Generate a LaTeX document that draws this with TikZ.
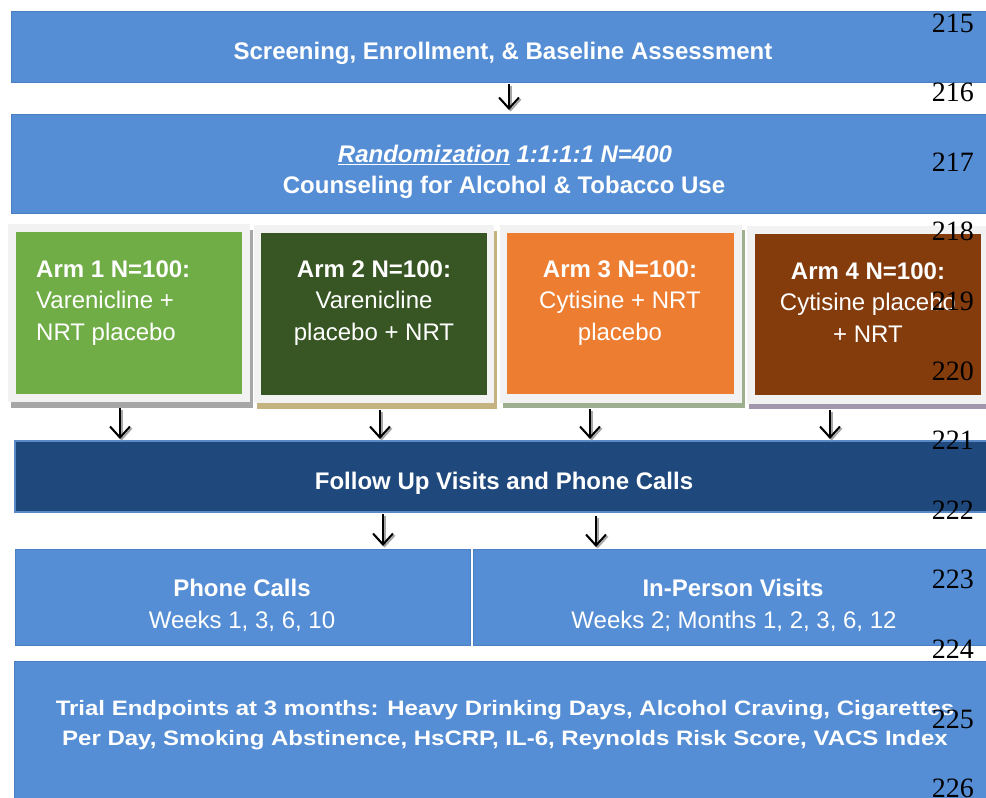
\documentclass[tikz,border=0pt]{standalone}
\usepackage{fontspec}
\setmainfont{Liberation Sans}
\newfontfamily\lnfont{Liberation Serif}
\usetikzlibrary{arrows.meta}
\definecolor{mblue}{HTML}{558ED5}
\definecolor{mbluedge}{HTML}{4A7EC0}
\definecolor{dblue}{HTML}{1F497D}
\definecolor{dbluedge}{HTML}{5A8AC6}
\definecolor{armone}{HTML}{70AD47}
\definecolor{armtwo}{HTML}{375623}
\definecolor{armthree}{HTML}{ED7D31}
\definecolor{armfour}{HTML}{843C0C}
\definecolor{frameg}{HTML}{F2F2F2}
\definecolor{shone}{HTML}{A6A6A6}
\definecolor{shtwo}{HTML}{C4B280}
\definecolor{shthree}{HTML}{9DAF8F}
\definecolor{shfour}{HTML}{A196AB}
\newcommand\ulx[1]{\setbox0\hbox{#1}\rlap{\rule[-3pt]{\wd0}{1.5pt}}\box0\relax}
\begin{document}
\begin{tikzpicture}[x=1pt,y=-1pt,
  boxbase/.style={rectangle,inner sep=0pt,outer sep=0pt,anchor=north west},
  bluebox/.style={boxbase,fill=mblue,draw=mbluedge,line width=0.8pt},
  txt/.style={text=white,inner sep=0pt,anchor=base,align=center,font=\fontsize{24}{31.5}\selectfont},
  btxt/.style={txt,font=\fontsize{24}{31.5}\selectfont\bfseries},
  lnum/.style={inner sep=0pt,anchor=base east,font=\lnfont\fontsize{28}{28}\selectfont},
  arr/.style={line width=2pt,-{Straight Barb[length=11pt,width=20pt,line width=2pt]}},
  arrsh/.style={arr,draw=black!35,transform canvas={shift={(1.6pt,-1.6pt)}}}
]
\useasboundingbox (0,0) rectangle (986,798);
\clip (0,0) rectangle (986,798);

% top boxes
\node[bluebox,minimum width=985pt,minimum height=71pt] (b1) at (11,11) {};
\node[btxt] (t1) at (503,59) {Screening, Enrollment, \& Baseline Assessment};
\node[bluebox,minimum width=985pt,minimum height=99pt] (b2) at (11,114) {};
\node[btxt] (t2) at (505,162) {\itshape\ulx{Randomization} 1:1:1:1 N=400};
\node[btxt] (t3) at (504,193) {Counseling for Alcohol \& Tobacco Use};

% arms: shadows, frames, inner boxes
\node[boxbase,fill=shone,minimum width=242pt,minimum height=178pt] (s1) at (11,230) {};
\node[boxbase,fill=frameg,minimum width=242pt,minimum height=178pt] (f1) at (8,224) {};
\node[boxbase,fill=armone,minimum width=226pt,minimum height=162pt] (a1) at (16,232) {};

\node[boxbase,fill=shtwo,minimum width=240pt,minimum height=178pt] (s2) at (257,231) {};
\node[boxbase,fill=frameg,minimum width=240pt,minimum height=178pt] (f2) at (254,225) {};
\node[boxbase,fill=armtwo,minimum width=226pt,minimum height=162pt] (a2) at (261,233) {};

\node[boxbase,fill=shthree,minimum width=242pt,minimum height=178pt] (s3) at (503,230) {};
\node[boxbase,fill=frameg,minimum width=242pt,minimum height=178pt] (f3) at (500,225) {};
\node[boxbase,fill=armthree,minimum width=227pt,minimum height=161pt] (a3) at (507,233) {};

\node[boxbase,fill=shfour,minimum width=250pt,minimum height=178pt] (s4) at (749,231) {};
\node[boxbase,fill=frameg,minimum width=250pt,minimum height=178pt] (f4) at (747,226) {};
\node[boxbase,fill=armfour,minimum width=226pt,minimum height=161pt] (a4) at (755,234) {};

\node[txt,anchor=base west,align=left] (at1) at (36,340) {\textbf{Arm 1 N=100:}\\Varenicline +\\NRT placebo};
\node[txt] (at2) at (374,340) {\textbf{Arm 2 N=100:}\\Varenicline\\placebo + NRT};
\node[txt] (at3) at (620,340) {\textbf{Arm 3 N=100:}\\Cytisine + NRT\\placebo};
\node[txt] (at4) at (868,342) {\textbf{Arm 4 N=100:}\\Cytisine placebo\\+ NRT};

% follow up
\node[boxbase,fill=dblue,draw=dbluedge,line width=1.2pt,minimum width=980pt,minimum height=71pt] (fu) at (15,441) {};
\node[btxt] (fut) at (504,489) {Follow Up Visits and Phone Calls};

% phone / in-person
\node[bluebox,minimum width=455pt,minimum height=96pt] (pc) at (15,549) {};
\node[bluebox,minimum width=520pt,minimum height=96pt] (ip) at (473,549) {};
\node[btxt] (pct) at (242,596) {Phone Calls};
\node[txt] (pcw) at (242,628) {Weeks 1, 3, 6, 10};
\node[btxt] (ipt) at (733,596) {In-Person Visits};
\node[txt] (ipw) at (734,628) {Weeks 2; Months 1, 2, 3, 6, 12};

% endpoints
\node[bluebox,minimum width=980pt,minimum height=145pt] (ep) at (14,661) {};
\node[btxt,font=\fontsize{24}{30}\selectfont\bfseries] (ept) at (505,745)
  {\scalebox{1}[0.87]{Trial Endpoints at 3 months: Heavy Drinking Days, Alcohol Craving, Cigarettes}\\
   \scalebox{1}[0.87]{Per Day, Smoking Abstinence, HsCRP, IL-6, Reynolds Risk Score, VACS Index}};

% arrow x positions
\coordinate (x0) at (509,0);
\coordinate (x1) at (120,0);
\coordinate (x2) at (380,0);
\coordinate (x3) at (590,0);
\coordinate (x4) at (830,0);
\coordinate (x5) at (383,0);
\coordinate (x6) at (596,0);

\foreach \s/\e/\xx/\a/\b in {b1/b2/x0/2/4, s1/fu/x1/0/2, s2/fu/x2/1/2, s3/fu/x3/1/2, s4/fu/x4/1/2, fu/pc/x5/2/3, fu/ip/x6/4/2}{
  \draw[arrsh,shorten <=\a pt,shorten >=\b pt] (\s.south -| \xx) -- (\e.north -| \xx);
  \draw[arr,shorten <=\a pt,shorten >=\b pt] (\s.south -| \xx) -- (\e.north -| \xx);
}

% line numbers
\foreach \n [count=\i from 0] in {215,...,226}{
  \node[lnum] (ln\n) at (974,{32+69.6*\i}) {\n};
}
\end{tikzpicture}
\end{document}
